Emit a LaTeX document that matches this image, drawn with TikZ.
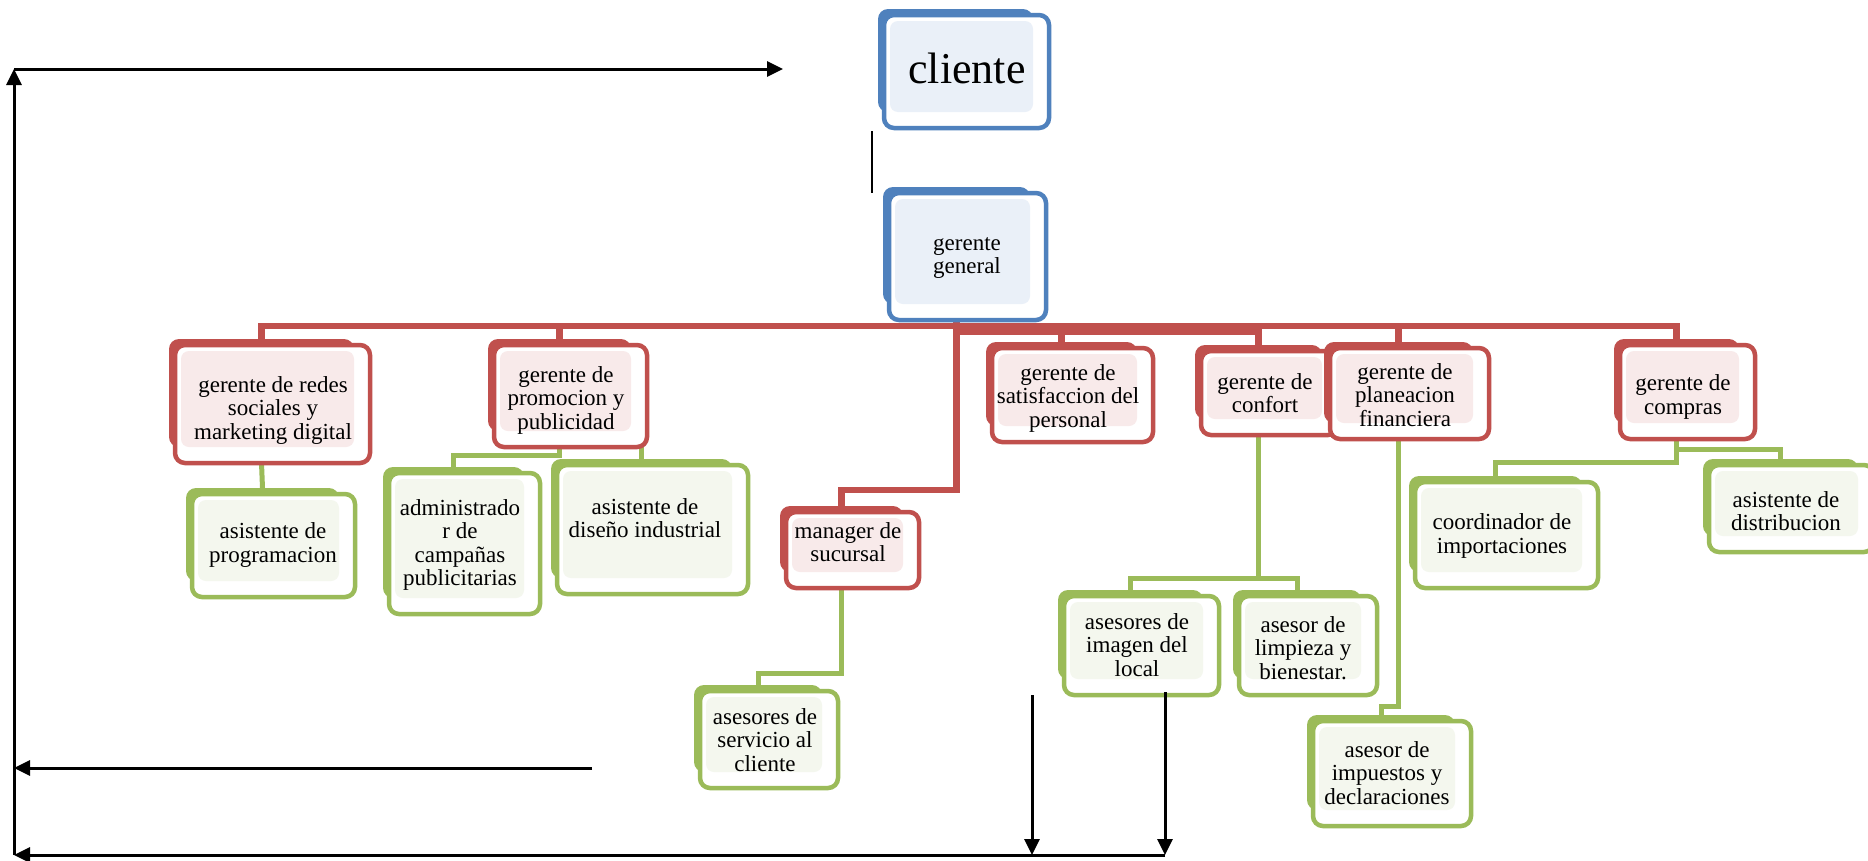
\documentclass[tikz,border=0pt]{standalone}
\usepackage{fontspec}
\setmainfont{Liberation Serif}
\usetikzlibrary{arrows.meta}
\definecolor{cBlue}{HTML}{4F81BD}
\definecolor{cBlueL}{HTML}{EAF0F8}
\definecolor{cRed}{HTML}{C0504D}
\definecolor{cRedL}{HTML}{F8EAEA}
\definecolor{cGreen}{HTML}{9BBB59}
\definecolor{cGreenL}{HTML}{F4F7EE}
\pgfdeclarelayer{bg}
\pgfsetlayers{bg,main}
\tikzset{
  txt/.style={align=center, inner sep=0pt, text=black, font=\fontsize{23}{23.5}\selectfont},
  redln/.style={draw=cRed, line width=6.5pt},
  grnln/.style={draw=cGreen, line width=5pt},
  blkarrow/.style={draw=black, line width=3pt, -{Triangle[length=16pt,width=15pt]}},
}
% name, colour, x1, y1, x2, y2, text x, text y, text
\newcommand{\obox}[9]{%
  \fill[#2, rounded corners=10pt] (#3,#4) rectangle (#5,#6);
  \draw[#2, line width=4.5pt, fill=white, rounded corners=10pt] (#3+6,#4+6) rectangle (#5+16,#6+16);
  \fill[#2L, rounded corners=8pt] (#3+12,#4+12) rectangle (#5,#6);
  \coordinate (#1-t) at ({(#3+#5)/2},#4);
  \coordinate (#1-b) at ({(#3+#5)/2},#6+16);
  \node[txt] (#1) at (#7,#8) {#9};
}
\begin{document}
\begin{tikzpicture}[x=1pt,y=-1pt]
\useasboundingbox (0,0) rectangle (1868,860);

\obox{cliente}{cBlue}{878}{9}{1033}{112}{967}{70}{}
\node[font=\fontsize{44}{48}\selectfont, anchor=base, inner sep=0pt] (clientetxt) at (967,83) {cliente};
\obox{gg}{cBlue}{883}{187}{1030}{304}{967}{258}{\fontsize{23}{21.5}\selectfont gerente\\general}

\obox{redes}{cRed}{169}{339}{354}{447}{273}{410}{gerente de redes\\sociales y\\marketing digital}
\obox{prog}{cGreen}{186}{488}{339}{581}{273}{545}{asistente de\\programacion}
\obox{promo}{cRed}{488}{339}{631}{431}{566}{400}{gerente de\\promocion y\\publicidad}
\obox{admin}{cGreen}{383}{467}{524}{598}{460}{545}{administrado\\r de\\campañas\\publicitarias}
\obox{diseno}{cGreen}{551}{459}{732}{578}{645}{518}{asistente de\\diseño industrial}
\obox{manager}{cRed}{780}{506}{903}{572}{848}{542}{manager de\\sucursal}
\obox{servicio}{cGreen}{694}{685}{822}{772}{765}{740}{asesores de\\servicio al\\cliente}
\obox{satis}{cRed}{986}{342}{1137}{426}{1068}{398}{gerente de\\satisfaccion del\\personal}
\obox{confort}{cRed}{1195}{345}{1322}{419}{1265}{393}{gerente de\\confort}
\obox{imagen}{cGreen}{1058}{590}{1203}{679}{1137}{645}{asesores de\\imagen del\\local}
\obox{limpieza}{cGreen}{1233}{590}{1361}{679}{1303}{648}{asesor de\\limpieza y\\bienestar.}
\obox{planea}{cRed}{1324}{342}{1473}{423}{1405}{395}{gerente de\\planeacion\\financiera}
\obox{impuestos}{cGreen}{1307}{715}{1455}{810}{1387}{773}{asesor de\\impuestos y\\declaraciones}
\obox{compras}{cRed}{1614}{339}{1739}{423}{1683}{397}{gerente de\\compras}
\obox{coord}{cGreen}{1409}{476}{1582}{572}{1502}{536}{coordinador de\\importaciones}
\obox{distrib}{cGreen}{1703}{459}{1858}{536}{1786}{511}{asistente de\\distribucion}

\coordinate (bus1) at (0,326);
\coordinate (bus2) at (0,332);

\begin{pgfonlayer}{bg}
  \fill[white] (0,0) rectangle (1868,860);
  % red connectors
  \draw[redln] (redes-t) |- (compras-t |- bus1) -- (compras-t);
  \draw[redln] (promo-t) -- (promo-t |- bus1);
  \draw[redln] (satis-t) -- (satis-t |- bus1);
  \draw[redln] (planea-t) -- (planea-t |- bus1);
  \draw[redln] (gg-b |- bus2) -| (confort-t);
  \draw[redln] (gg-b) |- (manager-t |- 0,490) -- (manager-t);
  % green connectors
  \draw[grnln] (redes-b) -- (prog-t);
  \draw[grnln] (promo-b) |- (admin-t |- 0,455) -- (admin-t);
  \draw[grnln] (promo-b |- 0,440) -| (diseno-t);
  \draw[grnln] (manager-b) |- (servicio-t |- 0,673) -- (servicio-t);
  \draw[grnln] (confort-b) |- (imagen-t |- 0,578) -- (imagen-t);
  \draw[grnln] (confort-b |- 0,578) -| (limpieza-t);
  \draw[grnln] (planea-b) |- (impuestos-t |- 0,706) -- (impuestos-t);
  \draw[grnln] (compras-b) |- (coord-t |- 0,462) -- (coord-t);
  \draw[grnln] (compras-b |- 0,449) -| (distrib-t);
\end{pgfonlayer}

% black lines
\coordinate (tl) at (14,69);
\coordinate (topend) at (783,69);
\coordinate (bl) at (14,855);
\coordinate (midstart) at (592,768);
\coordinate (midend) at (14,768);
\coordinate (vA) at (1032,695);
\coordinate (vAend) at (1032,855);
\coordinate (vB) at (1165,692);
\coordinate (vBend) at (1165,855);
\coordinate (s1) at (872,131);
\coordinate (s2) at (872,193);
\draw[blkarrow] (bl) -- (tl);
\draw[blkarrow] (tl) -- (topend);
\draw[blkarrow] (midstart) -- (midend);
\draw[blkarrow] (vBend) -- (bl);
\draw[blkarrow] (vA) -- (vAend);
\draw[blkarrow] (vB) -- (vBend);
\draw[line width=2.2pt] (s1) -- (s2);
\end{tikzpicture}
\end{document}
